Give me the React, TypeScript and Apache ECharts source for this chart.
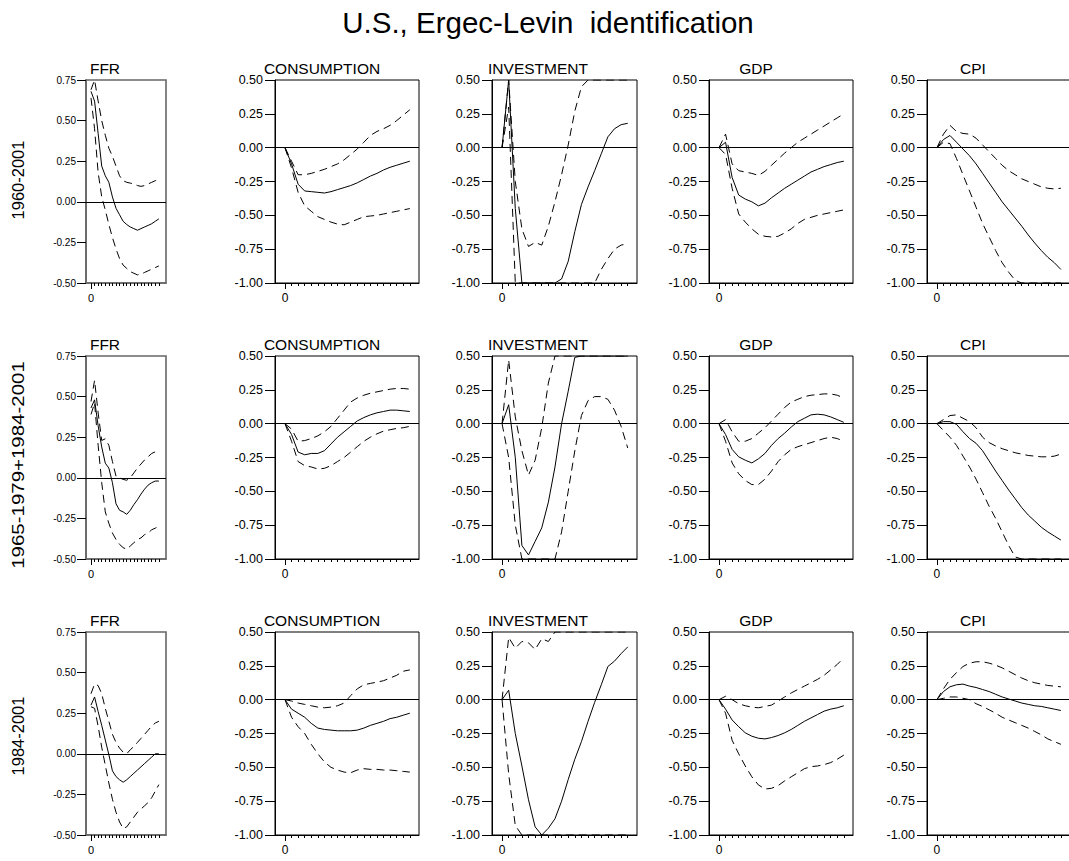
import React, { useEffect, useRef } from "react";
import * as echarts from "echarts";

// ---------- data ----------
const horizon = [0, 1, 2, 3, 4, 5, 6, 7, 8, 9, 10, 11, 12, 13, 14, 15, 16, 17, 18, 19];
const variables = ["FFR", "CONSUMPTION", "INVESTMENT", "GDP", "CPI"];
const samples = ["1960-2001", "1965-1979+1984-2001", "1984-2001"];
const chartTitle = "U.S., Ergec-Levin  identification";
const xTickLabels = [0];
const ffrRange = [-0.5, 0.75];
const otherRange = [-1.0, 0.5];

// Sample 1: 1960-2001
const s1FfrMid = [0.68, 0.62, 0.42, 0.22, 0.16, 0.12, 0.03, -0.04, -0.08, -0.12, -0.14, -0.155, -0.165, -0.175, -0.165, -0.155, -0.145, -0.135, -0.12, -0.105];
const s1FfrHi = [0.69, 0.75, 0.62, 0.5, 0.41, 0.33, 0.28, 0.22, 0.16, 0.13, 0.12, 0.115, 0.11, 0.1, 0.095, 0.1, 0.11, 0.12, 0.13, 0.14];
const s1FfrLo = [0.64, 0.45, 0.18, 0.03, -0.05, -0.14, -0.22, -0.29, -0.35, -0.39, -0.41, -0.43, -0.44, -0.45, -0.445, -0.435, -0.425, -0.415, -0.405, -0.395];
const s1ConMid = [0, -0.12, -0.27, -0.32, -0.325, -0.33, -0.335, -0.325, -0.31, -0.295, -0.28, -0.26, -0.235, -0.21, -0.19, -0.165, -0.145, -0.13, -0.115, -0.1];
const s1ConHi = [0, -0.1, -0.2, -0.2, -0.19, -0.175, -0.16, -0.14, -0.12, -0.09, -0.05, -0.01, 0.04, 0.09, 0.12, 0.14, 0.165, 0.2, 0.24, 0.28];
const s1ConLo = [0, -0.15, -0.33, -0.43, -0.47, -0.51, -0.53, -0.55, -0.565, -0.57, -0.55, -0.53, -0.51, -0.505, -0.5, -0.49, -0.48, -0.47, -0.46, -0.45];
const s1InvMid = [0, 0.5, -0.45, -1, -1, -1, -1, -1, -1, -0.97, -0.84, -0.62, -0.42, -0.29, -0.17, -0.045, 0.08, 0.14, 0.17, 0.18];
const s1InvHi = [0, 0.5, -0.25, -0.6, -0.73, -0.7, -0.72, -0.58, -0.4, -0.2, 0.02, 0.27, 0.45, 0.5, 0.5, 0.5, 0.5, 0.5, 0.5, 0.5];
const s1InvLo = [0, 0.3, -1, -1, -1, -1, -1, -1, -1, -1, -1, -1, -1, -1, -1, -0.9, -0.82, -0.75, -0.72, -0.71];
const s1GdpMid = [0, 0.04, -0.22, -0.35, -0.38, -0.4, -0.43, -0.41, -0.37, -0.335, -0.3, -0.27, -0.24, -0.21, -0.18, -0.16, -0.14, -0.125, -0.11, -0.1];
const s1GdpHi = [0, 0.1, -0.12, -0.17, -0.18, -0.19, -0.205, -0.175, -0.13, -0.085, -0.04, 0.0, 0.04, 0.07, 0.1, 0.13, 0.16, 0.19, 0.22, 0.25];
const s1GdpLo = [0, -0.05, -0.3, -0.49, -0.55, -0.6, -0.64, -0.655, -0.66, -0.655, -0.63, -0.6, -0.56, -0.53, -0.515, -0.5, -0.49, -0.48, -0.47, -0.46];
const s1CpiMid = [0, 0.06, 0.09, 0.04, -0.01, -0.06, -0.12, -0.19, -0.26, -0.33, -0.4, -0.46, -0.52, -0.58, -0.645, -0.705, -0.76, -0.81, -0.85, -0.9];
const s1CpiHi = [0, 0.1, 0.165, 0.12, 0.105, 0.1, 0.07, 0.02, -0.03, -0.08, -0.13, -0.17, -0.2, -0.23, -0.25, -0.27, -0.29, -0.3, -0.305, -0.3];
const s1CpiLo = [0, 0.04, 0.03, -0.08, -0.2, -0.32, -0.44, -0.56, -0.66, -0.76, -0.85, -0.92, -0.98, -1, -1, -1, -1, -1, -1, -1];

// Sample 2: 1965-1979+1984-2001
const s2FfrMid = [0.43, 0.48, 0.32, 0.19, 0.09, 0.06, -0.03, -0.16, -0.2, -0.21, -0.225, -0.2, -0.165, -0.135, -0.1, -0.07, -0.045, -0.03, -0.02, -0.02];
const s2FfrHi = [0.47, 0.6, 0.4, 0.23, 0.24, 0.2, 0.1, 0.01, 0.0, -0.01, -0.015, 0.0, 0.03, 0.06, 0.085, 0.11, 0.13, 0.15, 0.16, 0.16];
const s2FfrLo = [0.39, 0.46, 0.2, -0.03, -0.21, -0.28, -0.34, -0.38, -0.41, -0.43, -0.44, -0.42, -0.4, -0.38, -0.37, -0.35, -0.34, -0.32, -0.31, -0.3];
const s2ConMid = [0, -0.08, -0.21, -0.23, -0.22, -0.22, -0.2, -0.15, -0.1, -0.06, -0.02, 0.02, 0.045, 0.065, 0.08, 0.09, 0.1, 0.1, 0.095, 0.09];
const s2ConHi = [0, -0.04, -0.13, -0.125, -0.11, -0.09, -0.06, -0.02, 0.04, 0.1, 0.16, 0.19, 0.21, 0.225, 0.235, 0.245, 0.255, 0.26, 0.26, 0.255];
const s2ConLo = [0, -0.13, -0.28, -0.31, -0.32, -0.335, -0.33, -0.31, -0.28, -0.25, -0.21, -0.17, -0.13, -0.1, -0.075, -0.055, -0.045, -0.035, -0.03, -0.02];
const s2InvMid = [0, 0.14, -0.25, -0.9, -0.97, -0.87, -0.77, -0.58, -0.32, 0.0, 0.24, 0.49, 0.5, 0.5, 0.5, 0.5, 0.5, 0.5, 0.5, 0.5];
const s2InvHi = [0, 0.47, 0.05, -0.2, -0.38, -0.27, -0.03, 0.3, 0.5, 0.5, 0.5, 0.5, 0.5, 0.5, 0.5, 0.5, 0.5, 0.5, 0.5, 0.5];
const s2InvLo = [0, -0.25, -0.75, -1, -1, -1, -1, -1, -1, -0.8, -0.5, -0.2, 0.06, 0.17, 0.2, 0.2, 0.18, 0.1, -0.02, -0.18];
const s2GdpMid = [0, -0.08, -0.19, -0.245, -0.27, -0.29, -0.26, -0.22, -0.16, -0.11, -0.07, -0.025, 0.015, 0.04, 0.065, 0.07, 0.065, 0.05, 0.03, 0.01];
const s2GdpHi = [0, 0.03, -0.06, -0.13, -0.13, -0.11, -0.07, -0.03, 0.02, 0.07, 0.12, 0.16, 0.18, 0.2, 0.21, 0.215, 0.22, 0.22, 0.21, 0.19];
const s2GdpLo = [0, -0.13, -0.29, -0.37, -0.42, -0.45, -0.45, -0.41, -0.35, -0.28, -0.23, -0.19, -0.17, -0.155, -0.14, -0.125, -0.11, -0.1, -0.11, -0.13];
const s2CpiMid = [0, 0.015, 0.015, -0.005, -0.06, -0.11, -0.145, -0.2, -0.275, -0.35, -0.42, -0.49, -0.555, -0.62, -0.675, -0.72, -0.765, -0.8, -0.83, -0.86];
const s2CpiHi = [0, 0.03, 0.06, 0.065, 0.04, 0.015, -0.03, -0.1, -0.14, -0.165, -0.185, -0.2, -0.215, -0.225, -0.235, -0.24, -0.245, -0.245, -0.24, -0.225];
const s2CpiLo = [0, -0.05, -0.1, -0.16, -0.24, -0.32, -0.41, -0.51, -0.61, -0.7, -0.8, -0.9, -0.985, -1, -1, -1, -1, -1, -1, -1];

// Sample 3: 1984-2001
const s3FfrMid = [0.3, 0.35, 0.26, 0.175, 0.085, -0.005, -0.105, -0.14, -0.16, -0.175, -0.16, -0.14, -0.12, -0.1, -0.08, -0.06, -0.04, -0.02, 0.0, 0.0];
const s3FfrHi = [0.37, 0.43, 0.42, 0.37, 0.28, 0.2, 0.12, 0.07, 0.035, 0.01, 0.0, 0.025, 0.045, 0.07, 0.095, 0.12, 0.145, 0.17, 0.19, 0.2];
const s3FfrLo = [0.29, 0.28, 0.17, 0.04, -0.07, -0.18, -0.28, -0.36, -0.42, -0.46, -0.45, -0.42, -0.39, -0.36, -0.34, -0.32, -0.3, -0.27, -0.23, -0.19];
const s3ConMid = [0, -0.07, -0.1, -0.13, -0.175, -0.21, -0.22, -0.225, -0.23, -0.23, -0.23, -0.225, -0.21, -0.19, -0.175, -0.16, -0.14, -0.13, -0.115, -0.1];
const s3ConHi = [0, -0.01, -0.025, -0.035, -0.045, -0.055, -0.06, -0.055, -0.045, -0.025, 0.03, 0.08, 0.11, 0.12, 0.13, 0.14, 0.16, 0.18, 0.21, 0.22];
const s3ConLo = [0, -0.13, -0.2, -0.25, -0.33, -0.4, -0.46, -0.5, -0.52, -0.535, -0.54, -0.52, -0.51, -0.515, -0.515, -0.52, -0.52, -0.525, -0.53, -0.535];
const s3InvMid = [0, 0.07, -0.25, -0.49, -0.74, -0.94, -1.0, -0.95, -0.88, -0.75, -0.59, -0.44, -0.31, -0.16, -0.02, 0.11, 0.245, 0.285, 0.34, 0.39];
const s3InvHi = [0, 0.46, 0.38, 0.43, 0.42, 0.37, 0.45, 0.43, 0.5, 0.5, 0.5, 0.5, 0.5, 0.5, 0.5, 0.5, 0.5, 0.5, 0.5, 0.5];
const s3InvLo = [0, -0.55, -0.93, -1, -1, -1, -1, -1, -1, -1, -1, -1, -1, -1, -1, -1, -1, -1, -1, -1];
const s3GdpMid = [0, -0.07, -0.15, -0.2, -0.245, -0.27, -0.285, -0.29, -0.28, -0.265, -0.245, -0.22, -0.19, -0.16, -0.135, -0.11, -0.085, -0.07, -0.06, -0.045];
const s3GdpHi = [0, 0.025, 0.0, -0.03, -0.045, -0.055, -0.06, -0.05, -0.04, -0.01, 0.02, 0.05, 0.075, 0.1, 0.125, 0.15, 0.18, 0.22, 0.26, 0.31];
const s3GdpLo = [0, -0.1, -0.3, -0.4, -0.49, -0.57, -0.63, -0.66, -0.655, -0.635, -0.6, -0.57, -0.54, -0.51, -0.495, -0.49, -0.48, -0.465, -0.44, -0.41];
const s3CpiMid = [0, 0.06, 0.095, 0.11, 0.115, 0.1, 0.09, 0.075, 0.06, 0.04, 0.02, 0.005, -0.01, -0.025, -0.035, -0.045, -0.05, -0.06, -0.07, -0.08];
const s3CpiHi = [0, 0.08, 0.15, 0.2, 0.245, 0.27, 0.28, 0.28, 0.27, 0.255, 0.235, 0.21, 0.185, 0.16, 0.14, 0.125, 0.115, 0.105, 0.1, 0.095];
const s3CpiLo = [0, 0.01, 0.02, 0.02, 0.01, 0.0, -0.03, -0.05, -0.075, -0.1, -0.13, -0.15, -0.17, -0.19, -0.21, -0.235, -0.26, -0.29, -0.31, -0.33];

const panelData = [
  [[s1FfrMid, s1FfrHi, s1FfrLo], [s1ConMid, s1ConHi, s1ConLo], [s1InvMid, s1InvHi, s1InvLo], [s1GdpMid, s1GdpHi, s1GdpLo], [s1CpiMid, s1CpiHi, s1CpiLo]],
  [[s2FfrMid, s2FfrHi, s2FfrLo], [s2ConMid, s2ConHi, s2ConLo], [s2InvMid, s2InvHi, s2InvLo], [s2GdpMid, s2GdpHi, s2GdpLo], [s2CpiMid, s2CpiHi, s2CpiLo]],
  [[s3FfrMid, s3FfrHi, s3FfrLo], [s3ConMid, s3ConHi, s3ConLo], [s3InvMid, s3InvHi, s3InvLo], [s3GdpMid, s3GdpHi, s3GdpLo], [s3CpiMid, s3CpiHi, s3CpiLo]],
];

// ---------- layout (styles) ----------
const FONT = "'Liberation Sans', Arial, Helvetica, sans-serif";
const colLeft = [86, 275, 492, 709, 927];
const colWidth = [80, 144, 145, 144, 143];
const titleCenter = [105, 322, 538, 756, 973];
const rowTop = [80, 356, 632];
const rowLabelY = [180, 465, 736];
const rowLabelStretch = [1, 1.24, 1];
const boxH = 203;

function buildOption() {
  const grid: any[] = [];
  const xAxis: any[] = [];
  const yAxis: any[] = [];
  const series: any[] = [];
  const graphic: any[] = [];

  graphic.push({
    type: "text",
    x: 548,
    y: 22,
    style: {
      text: chartTitle,
      x: 0,
      y: 0,
      align: "center",
      verticalAlign: "middle",
      fontFamily: FONT,
      fontSize: 29.5,
      fill: "#000",
    },
  });

  for (let r = 0; r < 3; r++) {
    graphic.push({
      type: "text",
      x: 18,
      y: rowLabelY[r],
      rotation: Math.PI / 2,
      scaleX: rowLabelStretch[r],
      style: {
        text: samples[r],
        x: 0,
        y: 0,
        align: "center",
        verticalAlign: "middle",
        fontFamily: FONT,
        fontSize: 16.5,
        fill: "#000",
      },
    });
    for (let c = 0; c < 5; c++) {
      const idx = r * 5 + c;
      const isFfr = c === 0;
      const yr = isFfr ? ffrRange : otherRange;
      const xmin = isFfr ? -1.4 : -1.52;
      const xmax = isFfr ? 21.0 : 20.4;
      graphic.push({
        type: "text",
        x: titleCenter[c],
        y: rowTop[r] - 4,
        style: {
          text: variables[c],
          x: 0,
          y: 0,
          align: "center",
          verticalAlign: "bottom",
          fontFamily: FONT,
          fontSize: 15.5,
          fill: "#000",
        },
      });
      grid.push({
        left: colLeft[c],
        top: rowTop[r],
        width: colWidth[c],
        height: boxH,
        show: true,
        borderColor: isFfr ? "#666" : "#000",
        borderWidth: isFfr ? 1.6 : 1,
        backgroundColor: "transparent",
        containLabel: false,
        outerBoundsMode: "none",
      });
      const xMain = xAxis.length;
      xAxis.push({
        type: "value",
        gridIndex: idx,
        min: xmin,
        max: xmax,
        position: "bottom",
        axisLine: { show: true, onZero: false, lineStyle: { color: isFfr ? "#666" : "#000", width: isFfr ? 1.6 : 1 } },
        axisTick: { show: true, length: 3, customValues: horizon.slice(1), lineStyle: { color: "#000", width: 1 } },
        axisLabel: { show: false },
        splitLine: { show: false },
      });
      xAxis.push({
        type: "value",
        gridIndex: idx,
        min: xmin,
        max: xmax,
        position: "bottom",
        axisLine: { show: false, onZero: false },
        axisTick: { show: true, length: 6, customValues: xTickLabels, lineStyle: { color: "#000", width: 1 } },
        axisLabel: {
          show: true,
          customValues: xTickLabels,
          formatter: (v: number) => String(v),
          fontFamily: FONT,
          fontSize: isFfr ? 11 : 12,
          color: "#000",
          margin: 9,
        },
        splitLine: { show: false },
      });
      yAxis.push({
        type: "value",
        gridIndex: idx,
        min: yr[0],
        max: yr[1],
        interval: 0.25,
        axisLine: { show: true, onZero: false, lineStyle: { color: isFfr ? "#666" : "#000", width: isFfr ? 1.6 : 1 } },
        axisTick: { show: true, length: isFfr ? 9 : 10, lineStyle: { color: "#000", width: 1 } },
        axisLabel: {
          show: true,
          formatter: (v: number) => v.toFixed(2),
          fontFamily: FONT,
          fontSize: isFfr ? 10 : 12.5,
          color: "#000",
          margin: isFfr ? 10 : 12,
        },
        splitLine: { show: false },
      });
      const [mid, hi, lo] = panelData[r][c];
      const mk = (arr: number[], dashed: boolean, withZero: boolean) => {
        const s: any = {
          type: "line",
          xAxisIndex: xMain,
          yAxisIndex: idx,
          data: horizon.map((h, i) => [h, arr[i]]),
          showSymbol: false,
          symbol: "none",
          silent: true,
          clip: true,
          lineStyle: { color: "#000", width: 1, type: dashed ? [8, 5] : "solid" },
        };
        if (withZero) {
          s.markLine = {
            silent: true,
            symbol: ["none", "none"],
            label: { show: false },
            lineStyle: { color: "#000", width: 1, type: "solid" },
            data: [{ yAxis: 0 }],
          };
        }
        return s;
      };
      series.push(mk(mid, false, true));
      series.push(mk(hi, true, false));
      series.push(mk(lo, true, false));
    }
  }

  return {
    animation: false,
    backgroundColor: "#fff",
    grid,
    xAxis,
    yAxis,
    series,
    graphic,
  };
}

export default function App() {
  const ref = useRef<HTMLDivElement>(null);
  useEffect(() => {
    if (!ref.current) return;
    const chart = echarts.init(ref.current, undefined, { renderer: "svg" });
    chart.setOption(buildOption() as any);
    return () => chart.dispose();
  }, []);
  return (
    <div
      ref={ref}
      style={{ position: "fixed", left: 0, top: 0, width: 1069, height: 861, background: "#fff" }}
    />
  );
}
